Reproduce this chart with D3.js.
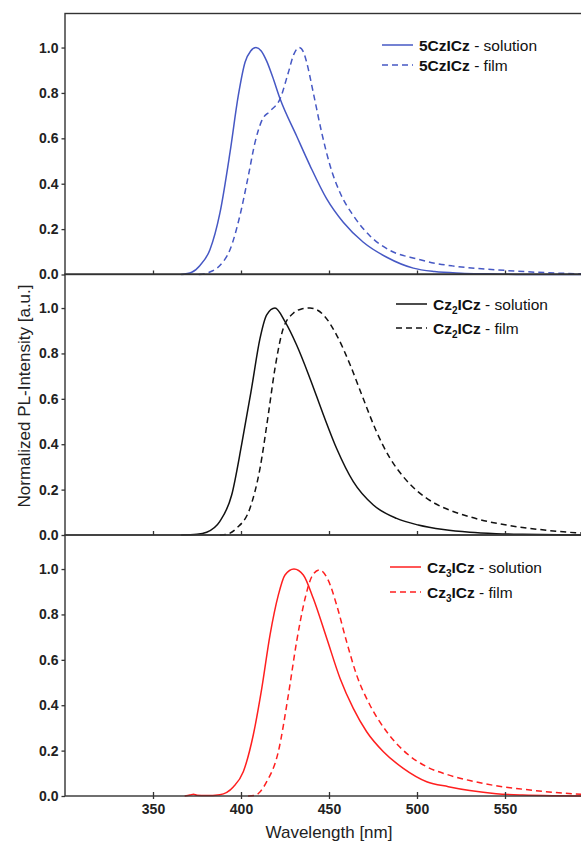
<!DOCTYPE html>
<html>
<head>
<meta charset="utf-8">
<script src="https://cdn.jsdelivr.net/npm/d3@7"></script>
<style>
  body { margin: 0; background: #fff; }
  svg { display: block; font-family: "Liberation Sans", Arial, sans-serif; }
</style>
</head>
<body>
<svg id="chart"></svg>
<script>
const width = 581;
const height = 841;

// tick labels
const xTicks = [350, 400, 450, 500, 550];
const yTicks = [0, 0.2, 0.4, 0.6, 0.8, 1.0];

// 5CzICz
const czSolWl = [366, 372, 376.7, 382.4, 388, 393.8, 398.5, 402.3, 405.5, 408.5, 411.5, 414.6, 418, 422.2, 431.6, 439.2, 448.7, 458.1, 469.5, 482.8, 497.9, 510, 525, 540, 560, 600];
const czSolI  = [0, 0.01, 0.04, 0.11, 0.27, 0.54, 0.79, 0.935, 0.985, 1.0, 0.985, 0.94, 0.87, 0.774, 0.61, 0.48, 0.333, 0.23, 0.142, 0.076, 0.028, 0.013, 0.006, 0.003, 0, 0];
const czFilmWl = [376, 382, 388, 393.8, 399.4, 404.2, 408, 411.8, 416.5, 422.2, 426.9, 430, 433.1, 435.5, 437.3, 441.1, 445.8, 450.6, 456.3, 463.8, 473.3, 484.7, 499.8, 510, 520, 535, 550, 565, 580, 600];
const czFilmI  = [0, 0.01, 0.04, 0.11, 0.26, 0.436, 0.583, 0.678, 0.72, 0.774, 0.89, 0.97, 1.0, 0.98, 0.935, 0.80, 0.627, 0.48, 0.36, 0.26, 0.17, 0.106, 0.069, 0.05, 0.038, 0.026, 0.018, 0.011, 0.006, 0.002];

// Cz2ICz
const cz2SolWl = [366, 375, 380.5, 388, 394.7, 400.4, 406, 410.8, 414.6, 419.3, 425, 431.6, 439.2, 446.8, 454.4, 463.8, 475.2, 488.4, 500.7, 515, 530, 545, 560, 580, 600];
const cz2SolI  = [0, 0.003, 0.012, 0.06, 0.176, 0.40, 0.646, 0.866, 0.97, 1.0, 0.94, 0.837, 0.69, 0.53, 0.38, 0.235, 0.132, 0.073, 0.044, 0.024, 0.012, 0.006, 0.003, 0.001, 0];
const cz2FilmWl = [388, 391.9, 397.5, 405.1, 410.8, 415.5, 419.3, 424, 429.7, 434, 439.2, 446.8, 454.4, 462, 469.5, 477, 484.7, 492.2, 500.7, 510, 520, 530, 540, 550, 560, 570, 580, 590, 600];
const cz2FilmI  = [0, 0.003, 0.03, 0.118, 0.294, 0.53, 0.734, 0.91, 0.977, 0.995, 1.0, 0.97, 0.88, 0.75, 0.60, 0.455, 0.338, 0.257, 0.19, 0.14, 0.105, 0.08, 0.06, 0.045, 0.033, 0.024, 0.016, 0.01, 0.006];

// Cz3ICz
const cz3SolWl = [368, 371, 373, 375, 380, 388, 395.6, 401.3, 407, 411.8, 416.5, 421.2, 425, 430.1, 435.4, 441.1, 448.7, 456.3, 463.8, 471.4, 480.9, 492.2, 505.5, 517.8, 530, 545, 560, 580, 600];
const cz3SolI  = [0, 0.004, 0.008, 0.003, 0.002, 0.006, 0.04, 0.107, 0.27, 0.474, 0.71, 0.885, 0.974, 1.0, 0.974, 0.87, 0.695, 0.518, 0.386, 0.283, 0.195, 0.122, 0.063, 0.041, 0.024, 0.01, 0.004, 0.001, 0];
const cz3FilmWl = [404, 408, 410, 414.6, 421.2, 426.9, 431.6, 436.4, 440.2, 444.5, 449.6, 454.4, 460, 465.7, 473.3, 482.8, 494.1, 505.5, 517.8, 530, 545, 560, 575, 590, 600];
const cz3FilmI  = [0, 0.003, 0.012, 0.063, 0.195, 0.445, 0.68, 0.87, 0.966, 0.996, 0.95, 0.84, 0.68, 0.533, 0.40, 0.283, 0.188, 0.129, 0.093, 0.068, 0.045, 0.03, 0.018, 0.009, 0.005];

const panels = [
    {top: 13.5, color: "#4658c4", sub: null, sol: [czSolWl, czSolI], film: [czFilmWl, czFilmI], lx: 382, ly: 45, gap: 20},
    {top: 274, color: "#111111", sub: "2", sol: [cz2SolWl, cz2SolI], film: [cz2FilmWl, cz2FilmI], lx: 396, ly: 304, gap: 24},
    {top: 535, color: "#ff1f1f", sub: "3", sol: [cz3SolWl, cz3SolI], film: [cz3FilmWl, cz3FilmI], lx: 390, ly: 567, gap: 25}
];
const panelH = 261;
const left = 65;

const svg = d3.select("#chart").attr("width", width).attr("height", height);

const x = d3.scaleLinear().domain([300, 600]).range([left, left + 528]);

svg.append("defs").append("clipPath").attr("id", "clip")
   .append("rect").attr("x", left).attr("y", 0).attr("width", 528).attr("height", height);

panels.forEach((p, idx) => {
    const y = d3.scaleLinear().domain([0, 1.15]).range([p.top + panelH, p.top]);
    const g = svg.append("g");

    const line = d3.line()
                   .x(d => x(d[0]))
                   .y(d => y(d[1]))
                   .curve(d3.curveMonotoneX);

    const toPts = arr => arr[0].map((w, i) => [w, arr[1][i]]);

    g.append("path")
     .attr("clip-path", "url(#clip)")
     .attr("d", line(toPts(p.sol)))
     .attr("fill", "none")
     .attr("stroke", p.color)
     .attr("stroke-width", 1.5);

    g.append("path")
     .attr("clip-path", "url(#clip)")
     .attr("d", line(toPts(p.film)))
     .attr("fill", "none")
     .attr("stroke", p.color)
     .attr("stroke-width", 1.5)
     .attr("stroke-dasharray", "6,4");

    // frame
    g.append("rect")
     .attr("x", left).attr("y", p.top)
     .attr("width", 528).attr("height", panelH)
     .attr("fill", "none")
     .attr("stroke", "#333")
     .attr("stroke-width", 1.4);

    // y axis
    g.append("g")
     .attr("transform", `translate(${left},0)`)
     .call(d3.axisLeft(y).tickValues(yTicks).tickSize(3.5).tickPadding(3).tickFormat(d3.format(".1f")))
     .call(a => a.select(".domain").remove())
     .call(a => a.selectAll("line").attr("stroke", "#333").attr("stroke-width", 1.3))
     .call(a => a.selectAll("text")
                 .attr("font-size", 14)
                 .attr("font-weight", "bold")
                 .attr("fill", "#222")
                 .attr("font-family", "Liberation Sans, Arial, sans-serif"));

    // x ticks (inside)
    g.append("g")
     .attr("transform", `translate(0,${p.top + panelH})`)
     .call(d3.axisTop(x).tickValues(xTicks).tickSize(4).tickFormat(""))
     .call(a => a.select(".domain").remove())
     .call(a => a.selectAll("line").attr("stroke", "#333").attr("stroke-width", 1.3));

    if (idx === 2) {
        g.append("g")
         .attr("transform", `translate(0,${p.top + panelH})`)
         .call(d3.axisBottom(x).tickValues(xTicks).tickSize(3).tickPadding(5))
         .call(a => a.select(".domain").remove())
         .call(a => a.selectAll("line").attr("stroke", "#333").attr("stroke-width", 1.3))
         .call(a => a.selectAll("text")
                     .attr("font-size", 14)
                     .attr("font-weight", "bold")
                     .attr("fill", "#222")
                     .attr("font-family", "Liberation Sans, Arial, sans-serif"));
    }

    // legend
    ["solution", "film"].forEach((kind, k) => {
        const ly = p.ly + k * p.gap;
        g.append("line")
         .attr("x1", p.lx).attr("x2", p.lx + 31)
         .attr("y1", ly).attr("y2", ly)
         .attr("stroke", p.color)
         .attr("stroke-width", 1.5)
         .attr("stroke-dasharray", kind === "film" ? "6,4" : null);

        const t = g.append("text")
                   .attr("x", p.lx + 37)
                   .attr("y", ly + 5.5)
                   .attr("font-size", 15.5)
                   .attr("fill", "#111");
        if (p.sub) {
            t.append("tspan").attr("font-weight", "bold").text("Cz");
            t.append("tspan").attr("font-weight", "bold").attr("font-size", 10).attr("dy", 4).text(p.sub);
            t.append("tspan").attr("font-weight", "bold").attr("dy", -4).text("ICz");
        } else {
            t.append("tspan").attr("font-weight", "bold").text("5CzICz");
        }
        t.append("tspan").text(" - " + kind);
    });
});

// axis titles
svg.append("text")
   .attr("x", x(450))
   .attr("y", 838)
   .attr("text-anchor", "middle")
   .attr("font-size", 17)
   .attr("fill", "#222")
   .text("Wavelength [nm]");

svg.append("text")
   .attr("transform", "translate(30,396) rotate(-90)")
   .attr("text-anchor", "middle")
   .attr("font-size", 17)
   .attr("fill", "#222")
   .text("Normalized PL-Intensity [a.u.]");
</script>
</body>
</html>
